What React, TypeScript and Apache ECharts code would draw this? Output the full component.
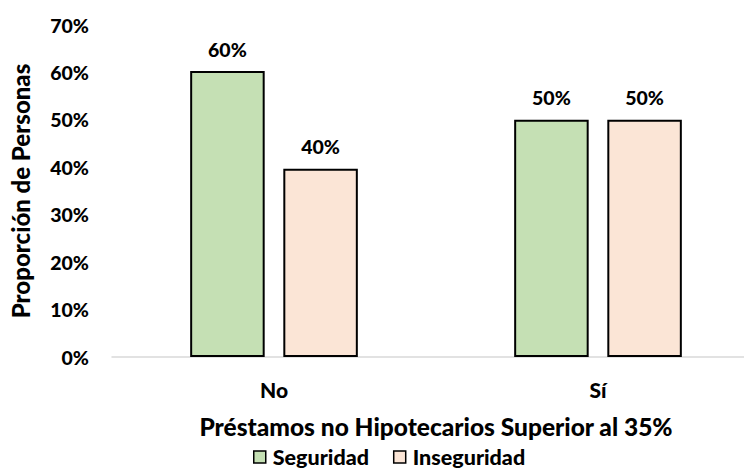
import React, { useEffect, useRef } from "react";
import * as echarts from "echarts";

const categories = ["No", "Sí"];
const seguridad = [60.3, 50];
const inseguridad = [39.7, 50];
const seriesNames = ["Seguridad", "Inseguridad"];
const yTicks = [0, 10, 20, 30, 40, 50, 60, 70];

const FONT = "Lato, 'Open Sans', sans-serif";
const W = 900;

export default function App() {
  const ref = useRef<HTMLDivElement>(null);
  useEffect(() => {
    document.body.style.overflow = "hidden";
    if (!ref.current) return;
    const chart = echarts.init(ref.current, null, { renderer: "svg" });
    const labelCfg = {
      show: true,
      position: "top",
      distance: 12,
      formatter: (p: any) => Math.round(p.value) + "%",
      color: "#000",
      fontFamily: FONT,
      fontWeight: W,
      fontSize: 19.5,
    };
    chart.setOption({
      animation: false,
      textStyle: { fontFamily: FONT },
      grid: { left: 110, right: 0, top: 25, bottom: 113 },
      legend: {
        top: 446,
        left: 253,
        padding: 0,
        icon: "rect",
        itemWidth: 12,
        itemHeight: 12,
        itemGap: 24,
        itemStyle: { borderColor: "#000", borderWidth: 1.5 },
        textStyle: { fontFamily: FONT, fontWeight: W, fontSize: 21.5, color: "#000", padding: [0, 0, 0, 2] },
        data: seriesNames,
      },
      xAxis: {
        type: "category",
        data: categories,
        name: "Préstamos no Hipotecarios Superior al 35%",
        nameLocation: "middle",
        nameGap: 57,
        nameTextStyle: { fontFamily: FONT, fontWeight: W, fontSize: 24.5, color: "#000" },
        axisLine: { lineStyle: { color: "#D9D9D9", width: 1.5 } },
        axisTick: { show: false },
        axisLabel: { fontFamily: FONT, fontWeight: W, fontSize: 21, color: "#000", margin: 22 },
      },
      yAxis: {
        type: "value",
        min: yTicks[0],
        max: yTicks[yTicks.length - 1],
        interval: 10,
        name: "Proporción de Personas",
        nameLocation: "middle",
        nameGap: 80,
        nameTextStyle: { fontFamily: FONT, fontWeight: W, fontSize: 24, color: "#000" },
        axisLine: { show: false },
        axisTick: { show: false },
        splitLine: { show: false },
        axisLabel: {
          fontFamily: FONT,
          fontWeight: W,
          fontSize: 19.5,
          color: "#000",
          margin: 23,
          formatter: (v: number) => v + "%",
        },
      },
      series: [
        {
          name: seriesNames[0],
          type: "bar",
          data: seguridad,
          barWidth: "23%",
          barGap: "25%",
          itemStyle: { color: "#C5E0B4", borderColor: "#000", borderWidth: 2 },
          label: labelCfg,
        },
        {
          name: seriesNames[1],
          type: "bar",
          data: inseguridad,
          barWidth: "23%",
          barGap: "25%",
          itemStyle: { color: "#FBE5D6", borderColor: "#000", borderWidth: 2 },
          label: labelCfg,
        },
      ],
    });
    return () => chart.dispose();
  }, []);
  return <div ref={ref} style={{ position: "fixed", left: 0, top: 0, width: 760, height: 470, background: "#fff" }} />;
}
